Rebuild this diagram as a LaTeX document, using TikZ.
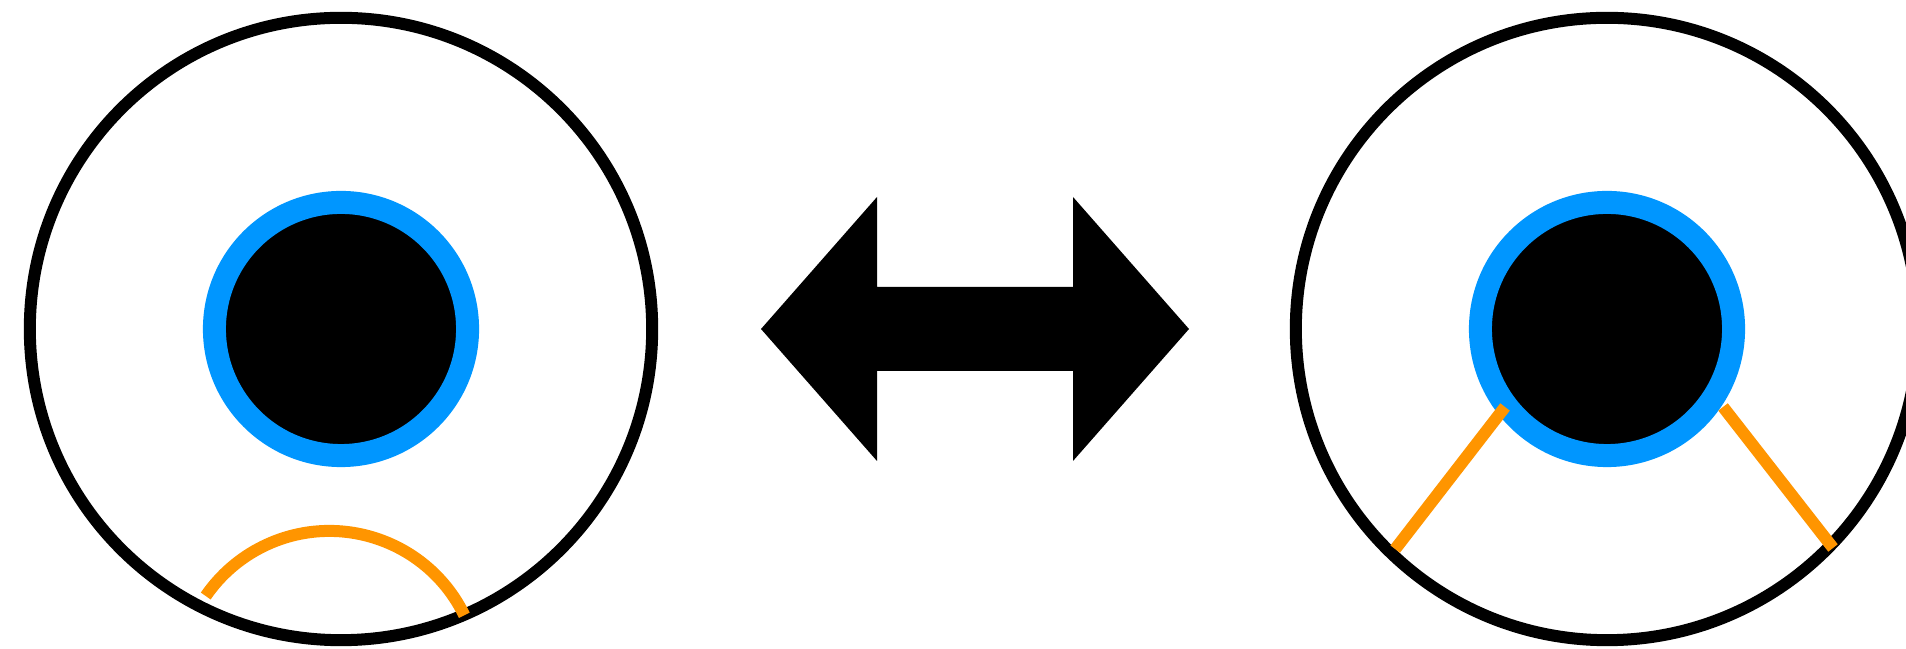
\documentclass[tikz,border=0pt]{standalone}
\usepackage{xcolor}
\usepackage{tikz}
\usetikzlibrary{positioning, calc}

\definecolor{eyeblue}{RGB}{0,150,255}
\definecolor{mouthorange}{RGB}{255,149,0}

\begin{document}
\begin{tikzpicture}[x=0.01cm, y=0.01cm,
  face/.style={circle, draw=black, line width=0.12cm, minimum size=6.22cm, inner sep=0pt, outer sep=0pt},
  eye/.style={circle, draw=eyeblue, fill=black, line width=0.23cm, minimum size=2.53cm, inner sep=0pt, outer sep=0pt},
  mouth/.style={draw=mouthorange, line width=0.12cm},
  swap/.style={fill=black}
]
  \useasboundingbox (0,0) rectangle (1906,649);

  % left face
  \node[face] (lface) at (341,320) {};
  \node[eye] (leye) at (341,320) {};
  \coordinate (lmouth) at ($(lface)+(-11.5,-352)$);
  \draw[mouth] ($(lmouth)+(26:150)$) arc[start angle=26, end angle=145.5, radius=1.5cm];

  % right face
  \node[face] (rface) at (1607,320) {};
  \node[eye] (reye) at (1607,320) {};
  \coordinate (rl1) at ($(reye)+(217.4:128.4)$);
  \coordinate (rl2) at ($(rface)+(226.1:305.5)$);
  \coordinate (rr1) at ($(reye)+(-33.9:139.8)$);
  \coordinate (rr2) at ($(rface)+(-44.1:314.7)$);
  \draw[mouth] (rl1) -- (rl2);
  \draw[mouth] (rr1) -- (rr2);

  % double arrow in between
  \coordinate (mid) at (975,320);
  \fill[swap] ($(mid)+(-214,0)$) -- ++(116,132) -- ++(0,-90) -- ++(196,0) -- ++(0,90)
    -- ++(116,-132) -- ++(-116,-132) -- ++(0,90) -- ++(-196,0) -- ++(0,-90) -- cycle;
\end{tikzpicture}
\end{document}
